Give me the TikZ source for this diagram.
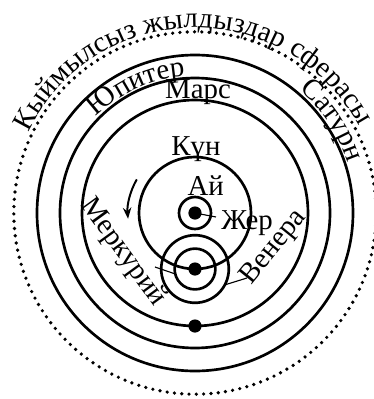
\documentclass[tikz,border=0pt]{standalone}
\usepackage{fontspec}
\setmainfont{Liberation Serif}
\usetikzlibrary{arrows.meta,decorations.text}
\newcommand{\lblfont}{\fontsize{20.5}{22}\selectfont}
\begin{document}
\begin{tikzpicture}[
    orbit/.style={line width=1.9pt},
    body/.style={circle, fill=black, inner sep=0pt, minimum size=0.33cm},
    lbl/.style={font=\lblfont, inner sep=0pt},
    leader/.style={line width=0.8pt},
    arclbl/.style={decorate, decoration={text along path, text align=center, text={|\lblfont|#1}}}
  ]
    \useasboundingbox (-4.875,-4.65) rectangle (4.475,5.325);
    \draw[line width=2.6pt, line cap=round, dash pattern=on 0pt off 5.2pt]
      (0,0) circle[radius=4.53];
    \draw[orbit] (0,0) circle[radius=3.95];
    \draw[orbit] (0,0) circle[radius=3.375];
    \draw[orbit] (0,0) circle[radius=2.825];
    \draw[orbit] (0,0) circle[radius=1.4];
    \draw[orbit] (0,0) circle[radius=0.4];
    \draw[orbit] (0,-1.4) circle[radius=0.845];
    \draw[orbit] (0,-1.4) circle[radius=0.51];
    \node[body] (zher) at (0,0) {};
    \node[body] (kun) at (0,-1.4) {};
    \node[body] (mars) at (0,-2.825) {};
    \node[lbl, anchor=base] (kunlbl) at (0.025,1.45) {Күн};
    \node[lbl, anchor=base] (ailbl) at (0.27,0.45) {Ай};
    \node[lbl, anchor=base] (marslbl) at (0.075,2.875) {Марс};
    \node[lbl, anchor=base west] (zherlbl) at (0.65,-0.4) {Жер};
    \node[lbl, rotate=-54] (merlbl) at (-1.8,-0.98) {Меркурий};
    \node[lbl, rotate=51] (venlbl) at (1.98,-0.86) {Венера};
    \coordinate (zherend) at (0.525,-0.1);
    \coordinate (merend) at (-1.0,-1.35);
    \coordinate (venend) at (1.3,-1.625);
    \draw[leader] (zher.center) -- (zherend);
    \draw[leader] (merend) -- ([shift={(194:0.51)}]kun.center);
    \draw[leader] ([shift={(-28:0.845)}]kun.center) -- (venend);
    \coordinate (dirstart) at (150:1.68);
    \draw[line width=1.4pt, -{Stealth[length=8pt,width=6pt]}]
      (dirstart) arc[start angle=150, end angle=185, radius=1.68];
    \path[arclbl={Кыймылсыз жылдыздар сферасы}]
      (159:4.63) arc[start angle=159, end angle=23, radius=4.63];
    \path[arclbl={Юпитер}] (150:3.43) arc[start angle=150, end angle=80, radius=3.43];
    \path[arclbl={Сатурн}] (62:4.03) arc[start angle=62, end angle=6, radius=4.03];
  \end{tikzpicture}
\end{document}
